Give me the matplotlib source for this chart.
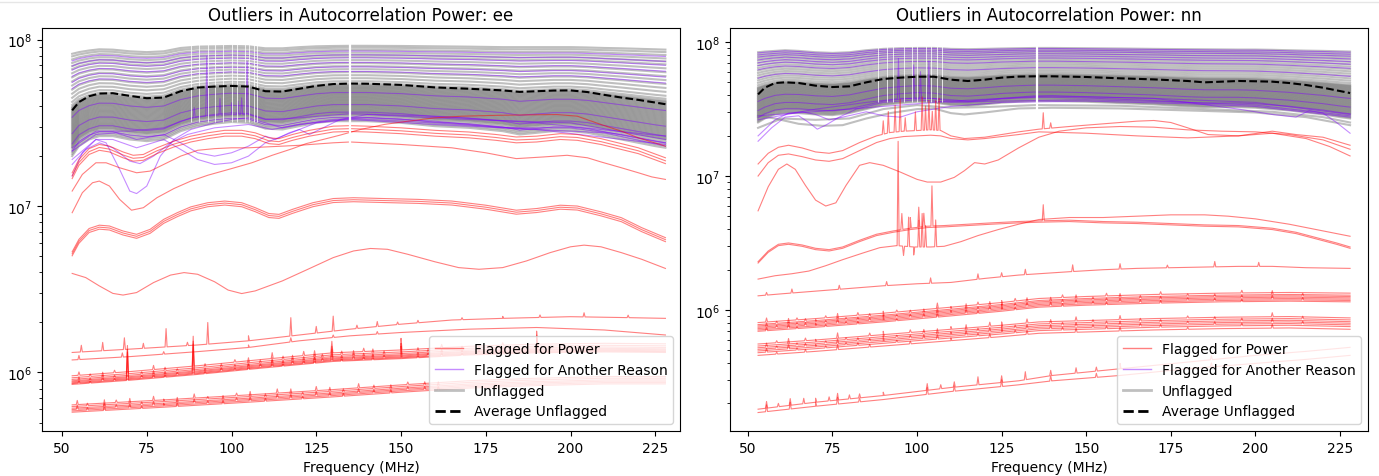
import numpy as np
import matplotlib
matplotlib.use("Agg")
import matplotlib.pyplot as plt
from matplotlib.lines import Line2D

# ---------------- data (log10 of autocorrelation power) ----------------
FREQ = [53, 55, 58, 61, 65, 70, 75, 80, 85, 90, 95, 100, 105, 110, 115, 120, 125,
        130, 135, 140, 150, 160, 170, 180, 185, 190, 195, 200, 205, 210, 215, 220, 225, 228]
XTICKS = [50, 75, 100, 125, 150, 175, 200, 225]
TITLES = ["Outliers in Autocorrelation Power: ee", "Outliers in Autocorrelation Power: nn"]
LEGEND_LABELS = ["Flagged for Power", "Flagged for Another Reason", "Unflagged", "Average Unflagged"]
FLAGGED_CHANNELS_EE = [88.0, 90.4, 93.2, 95.0, 97.6, 100.1, 101.5, 104.0, 105.2, 106.6, 107.4]
FLAGGED_CHANNELS_NN = [88.5, 91.0, 93.0, 96.0, 98.5, 100.0, 102.6, 104.2, 106.0, 107.5]
GAP_EE = 135.0
GAP_NN = 135.4

# ---- ee: unflagged band ----
EE_AVG = [7.575, 7.625, 7.660, 7.676, 7.678, 7.662, 7.648, 7.652, 7.690, 7.712, 7.718, 7.722, 7.718,
          7.690, 7.688, 7.705, 7.722, 7.733, 7.736, 7.735, 7.728, 7.713, 7.705, 7.695, 7.686, 7.690,
          7.694, 7.695, 7.685, 7.668, 7.652, 7.638, 7.622, 7.612]
EE_TOP = [7.915, 7.925, 7.935, 7.942, 7.940, 7.930, 7.925, 7.930, 7.950, 7.958, 7.960, 7.962, 7.960,
          7.948, 7.948, 7.955, 7.960, 7.962, 7.963, 7.963, 7.962, 7.960, 7.958, 7.955, 7.955, 7.955,
          7.955, 7.955, 7.953, 7.950, 7.948, 7.945, 7.942, 7.940]
EE_BOT = [7.300, 7.360, 7.400, 7.420, 7.420, 7.400, 7.390, 7.400, 7.450, 7.480, 7.495, 7.505, 7.500,
          7.465, 7.460, 7.480, 7.500, 7.510, 7.510, 7.510, 7.500, 7.480, 7.470, 7.450, 7.430, 7.440,
          7.450, 7.450, 7.440, 7.420, 7.400, 7.380, 7.360, 7.350]
EE_GRAY_POS = [0.00, 0.02, 0.04, 0.06, 0.08, 0.09, 0.10, 0.11, 0.12, 0.13, 0.14, 0.15, 0.16, 0.17,
               0.18, 0.19, 0.20, 0.21, 0.22, 0.23, 0.24, 0.25, 0.26, 0.27, 0.28, 0.29, 0.30, 0.31,
               0.32, 0.33, 0.34, 0.35, 0.36, 0.37, 0.38, 0.39, 0.40, 0.41, 0.42, 0.43, 0.44, 0.45,
               0.46, 0.47, 0.48, 0.50, 0.53, 0.57, 0.61, 0.65, 0.69, 0.73, 0.77, 0.81, 0.85, 0.88,
               0.91, 0.945, 0.975, 1.00]
EE_PURPLE_POS = [0.93, 0.88, 0.84, 0.78, 0.72, 0.66, 0.38, 0.22, 0.12, 0.05]

# ---- ee: purple (flagged for another reason) explicit curves ----
EE_P1_F = [53, 56, 60, 63, 67, 70, 72, 75, 79, 83, 88, 95, 100, 105, 110, 115, 120, 130, 140, 160, 180, 200, 215, 228]
EE_P1_V = [7.18, 7.32, 7.40, 7.38, 7.22, 7.09, 7.075, 7.12, 7.30, 7.40, 7.46, 7.50, 7.52, 7.53, 7.50, 7.47, 7.49,
           7.52, 7.53, 7.51, 7.47, 7.47, 7.43, 7.38]
EE_P2_F = [53, 57, 61, 65, 70, 73, 77, 82, 87, 95, 105, 112, 120, 135, 160, 190, 210, 228]
EE_P2_V = [7.25, 7.34, 7.38, 7.35, 7.27, 7.255, 7.30, 7.38, 7.43, 7.47, 7.49, 7.46, 7.49, 7.525, 7.50, 7.46, 7.44, 7.36]
EE_P3_F = [53, 60, 65, 72, 80, 85, 90, 95, 100, 105, 110, 115, 120, 125, 135, 160, 190, 228]
EE_P3_V = [7.28, 7.40, 7.40, 7.35, 7.40, 7.34, 7.28, 7.25, 7.26, 7.30, 7.38, 7.42, 7.46, 7.50, 7.52, 7.49, 7.46, 7.37]
EE_P4_F = [53, 60, 66, 72, 80, 85, 90, 95, 100, 105, 110, 113, 117, 120, 123, 127, 132, 140, 170, 200, 228]
EE_P4_V = [7.33, 7.43, 7.44, 7.40, 7.43, 7.38, 7.32, 7.30, 7.32, 7.36, 7.42, 7.40, 7.44, 7.46, 7.43, 7.47, 7.52,
           7.55, 7.52, 7.50, 7.40]
EE_P5_F = [53, 60, 70, 80, 88, 95, 100, 105, 110, 120, 135, 160, 190, 228]
EE_P5_V = [7.35, 7.45, 7.45, 7.47, 7.53, 7.545, 7.55, 7.55, 7.52, 7.53, 7.555, 7.54, 7.50, 7.42]
EE_P5_SPIKES = [(89.0, 0.06), (92.7, 0.36), (96.6, 0.10), (100.0, 0.07), (101.9, 0.08), (103.0, 0.10), (104.6, 0.32)]

# ---- ee: red (flagged for power) curves ----
EE_RA_F = [53, 55, 58, 61, 64, 68, 71, 74, 78, 83, 88, 93, 98, 103, 107, 111, 114, 118, 123, 130, 135, 140,
           150, 160, 170, 178, 184, 190, 197, 202, 209, 215, 220, 224, 228]
EE_RA_V = [7.20, 7.28, 7.345, 7.37, 7.36, 7.325, 7.305, 7.31, 7.35, 7.39, 7.42, 7.44, 7.455, 7.455, 7.44,
           7.41, 7.405, 7.43, 7.455, 7.48, 7.483, 7.48, 7.47, 7.455, 7.445, 7.43, 7.415, 7.42, 7.435, 7.43,
           7.405, 7.375, 7.35, 7.32, 7.29]
EE_RA_OFFSETS = [0.0, -0.018, -0.035]
EE_RB_F = [53, 56, 59, 61, 64, 67, 70.5, 74, 78, 83, 88, 93, 100, 106, 112, 118, 122, 127, 132, 138, 145,
           152, 160, 168, 178, 188, 196, 202, 209, 215, 220, 224, 228]
EE_RB_V = [6.96, 7.08, 7.14, 7.15, 7.12, 7.04, 6.975, 6.99, 7.05, 7.105, 7.15, 7.185, 7.225, 7.26, 7.305,
           7.345, 7.375, 7.40, 7.426, 7.46, 7.49, 7.51, 7.53, 7.54, 7.545, 7.548, 7.55, 7.54, 7.49, 7.45,
           7.41, 7.385, 7.36]
EE_R24_F = [53, 56, 60, 63, 67, 72, 76, 80, 85, 90, 95, 100, 105, 110, 120, 130, 135, 150, 165, 175, 184,
            192, 199, 205, 209, 215, 220, 224, 228]
EE_R24_V = [7.09, 7.19, 7.26, 7.26, 7.23, 7.20, 7.21, 7.25, 7.30, 7.335, 7.345, 7.35, 7.35, 7.355, 7.365,
            7.38, 7.385, 7.37, 7.35, 7.32, 7.285, 7.295, 7.305, 7.29, 7.265, 7.23, 7.20, 7.175, 7.16]
EE_RC_F = [53, 55, 58, 61, 64, 68, 72, 76, 80, 84, 88, 93, 98, 103, 107, 111, 114, 118, 124, 130, 136, 145,
           155, 165, 175, 184, 190, 197, 202, 209, 215, 221, 228]
EE_RC_V = [6.725, 6.80, 6.865, 6.885, 6.88, 6.85, 6.83, 6.86, 6.92, 6.96, 6.995, 7.02, 7.03, 7.02, 6.99,
           6.955, 6.95, 6.98, 7.02, 7.045, 7.05, 7.045, 7.04, 7.03, 7.005, 6.975, 6.985, 7.005, 7.0, 6.965,
           6.93, 6.87, 6.81]
EE_RC_OFFSETS = [0.0, -0.012, -0.024]
EE_RD_F = [53, 57, 61, 65, 68, 72, 77, 82, 86, 90, 95, 99, 103, 107, 115, 122, 130, 136, 141, 146, 152, 160,
           167, 173, 180, 187, 194, 200, 204, 209, 215, 221, 228]
EE_RD_V = [6.595, 6.57, 6.52, 6.475, 6.465, 6.48, 6.54, 6.585, 6.60, 6.59, 6.545, 6.495, 6.474, 6.49, 6.55,
           6.615, 6.69, 6.73, 6.745, 6.74, 6.71, 6.665, 6.63, 6.62, 6.63, 6.67, 6.72, 6.755, 6.765, 6.755,
           6.72, 6.68, 6.625]
EE_RE1_F = [53, 70, 90, 105, 120, 135, 150, 165, 180, 200, 215, 228]
EE_RE1_V = [6.12, 6.14, 6.165, 6.19, 6.225, 6.26, 6.29, 6.315, 6.325, 6.335, 6.33, 6.325]
EE_RE1_SPIKES = [(55.7, 0.04), (62.0, 0.05), (68.4, 0.07), (74.0, 0.03), (80.7, 0.11), (87.0, 0.02),
                 (93.0, 0.13), (105.0, 0.03), (117.5, 0.11), (125.0, 0.04), (130.0, 0.09), (137.0, 0.02),
                 (143.0, 0.03), (149.0, 0.015), (155.0, 0.015), (168.0, 0.012), (180.0, 0.012),
                 (191.0, 0.015), (204.0, 0.025), (217.0, 0.015)]
EE_RE2_F = [53, 70, 90, 105, 120, 135, 150, 170, 190, 210, 228]
EE_RE2_V = [6.075, 6.095, 6.125, 6.15, 6.19, 6.22, 6.24, 6.26, 6.27, 6.255, 6.225]
EE_RE2_SPIKES = [(55.0, 0.025), (67.8, 0.025), (80.0, 0.015), (105.0, 0.015), (117.5, 0.025), (130.0, 0.015),
                 (143.0, 0.015)]
EE_RF_F = [53, 70, 90, 110, 130, 150, 170, 190, 210, 228]
EE_RF_V = [5.95, 5.975, 6.01, 6.05, 6.088, 6.105, 6.127, 6.14, 6.145, 6.142]
EE_RF_OFFSETS = [0.03, 0.018, 0.008, 0.0, -0.006, -0.012, -0.017, -0.022]
EE_RF_SPIKES = [55.0, 58.3, 62.0, 65.5, 69.3, 73.5, 77.0, 80.4, 84.0, 88.7, 92.2, 97.0, 101.0, 105.0, 108.5,
                112.0, 115.2, 118.0, 121.3, 124.5, 126.8, 129.6, 132.5, 136.0, 139.0, 141.7, 145.0, 150.0,
                155.0, 158.0, 162.0, 168.0, 173.0, 180.0, 190.0]
EE_RF_AMPS = [0.02, 0.015, 0.03, 0.015, 0.17, 0.015, 0.025, 0.02, 0.015, 0.18, 0.02, 0.02, 0.015, 0.03, 0.02,
              0.035, 0.02, 0.03, 0.025, 0.035, 0.02, 0.07, 0.02, 0.03, 0.02, 0.025, 0.02, 0.07, 0.02, 0.02,
              0.02, 0.015, 0.02, 0.015, 0.09]
EE_RG_F = [53, 80, 105, 130, 150, 170, 190, 210, 228]
EE_RG_V = [5.785, 5.815, 5.845, 5.877, 5.905, 5.93, 5.945, 5.955, 5.955]
EE_RG_OFFSETS = [0.02, 0.01, 0.0, -0.008, -0.016, -0.024]
EE_RG_SPIKES = [54.5, 57.5, 62.5, 66.0, 70.0, 73.5, 77.0, 80.0, 84.0, 89.0, 93.0, 97.5, 101.5, 105.5, 110.0,
                113.5, 117.5, 121.0, 125.0, 129.0, 133.0, 137.5, 142.0, 147.0, 152.0, 157.0, 161.0]
EE_RG_AMPS = [0.025, 0.015, 0.04, 0.015, 0.03, 0.015, 0.025, 0.015, 0.03, 0.025, 0.015, 0.025, 0.015, 0.03,
              0.02, 0.025, 0.03, 0.015, 0.025, 0.025, 0.02, 0.025, 0.02, 0.025, 0.015, 0.02, 0.025]

# ---- nn: unflagged band ----
NN_AVG = [7.610, 7.660, 7.695, 7.700, 7.695, 7.675, 7.665, 7.670, 7.700, 7.725, 7.735, 7.742, 7.742,
          7.720, 7.710, 7.720, 7.735, 7.743, 7.745, 7.745, 7.740, 7.730, 7.722, 7.710, 7.700, 7.705,
          7.710, 7.708, 7.705, 7.695, 7.680, 7.660, 7.635, 7.620]
NN_TOP = [7.925, 7.930, 7.935, 7.940, 7.935, 7.925, 7.920, 7.925, 7.940, 7.950, 7.955, 7.957, 7.957,
          7.950, 7.948, 7.950, 7.953, 7.955, 7.957, 7.957, 7.955, 7.953, 7.950, 7.948, 7.947, 7.946,
          7.945, 7.945, 7.943, 7.940, 7.937, 7.935, 7.932, 7.930]
NN_BOT = [7.400, 7.430, 7.460, 7.470, 7.470, 7.460, 7.455, 7.470, 7.500, 7.530, 7.545, 7.555, 7.550,
          7.530, 7.525, 7.535, 7.548, 7.555, 7.560, 7.560, 7.555, 7.545, 7.535, 7.520, 7.515, 7.515,
          7.515, 7.510, 7.500, 7.490, 7.475, 7.460, 7.440, 7.430]
NN_GRAY_POS = [0.00, 0.015, 0.03, 0.045, 0.06, 0.07, 0.08, 0.09, 0.10, 0.11, 0.12, 0.13, 0.14, 0.15,
               0.16, 0.17, 0.18, 0.19, 0.20, 0.21, 0.22, 0.23, 0.24, 0.25, 0.26, 0.27, 0.28, 0.29,
               0.30, 0.31, 0.32, 0.33, 0.34, 0.35, 0.36, 0.37, 0.38, 0.39, 0.40, 0.41, 0.42, 0.43,
               0.44, 0.45, 0.46, 0.47, 0.48, 0.49, 0.50, 0.53, 0.565, 0.60, 0.635, 0.67, 0.705,
               0.74, 0.775, 0.81, 0.845, 0.88, 0.91, 0.94, 0.97, 1.00]
NN_PURPLE_POS = [0.99, 0.96, 0.93, 0.89, 0.85, 0.81, 0.75, 0.63, 0.30, 0.17, 0.07]
NN_GL1_F = [53, 58, 65, 72, 78, 85, 92, 100, 105, 110, 114, 120, 130, 140, 160, 180, 200, 215, 228]
NN_GL1_V = [7.45, 7.43, 7.39, 7.375, 7.38, 7.43, 7.47, 7.50, 7.505, 7.47, 7.46, 7.475, 7.505, 7.51,
            7.505, 7.49, 7.475, 7.44, 7.38]
NN_GL2_F = [53, 60, 70, 80, 90, 100, 110, 120, 135, 160, 185, 205, 220, 228]
NN_GL2_V = [7.36, 7.43, 7.42, 7.43, 7.50, 7.53, 7.51, 7.515, 7.53, 7.525, 7.50, 7.48, 7.44, 7.40]
NN_P1_F = [53, 57, 61, 65, 68, 70.5, 73, 77, 82, 90, 100, 110, 125, 150, 180, 200, 228]
NN_P1_V = [7.26, 7.36, 7.44, 7.45, 7.40, 7.35, 7.38, 7.44, 7.50, 7.55, 7.57, 7.55, 7.56, 7.57, 7.55, 7.53, 7.45]
NN_P2_F = [53, 58, 62, 66, 70, 74, 78, 85, 90, 95, 100, 110, 125, 150, 180, 200, 228]
NN_P2_V = [7.30, 7.42, 7.47, 7.48, 7.46, 7.42, 7.44, 7.48, 7.45, 7.44, 7.48, 7.52, 7.55, 7.56, 7.54, 7.52, 7.44]
NN_P3_F = [53, 80, 110, 140, 170, 180, 195, 205, 212, 216, 220, 224, 228]
NN_P3_V = [7.45, 7.50, 7.56, 7.60, 7.58, 7.55, 7.50, 7.46, 7.44, 7.49, 7.47, 7.40, 7.32]
NN_P5_F = [53, 70, 85, 95, 105, 115, 135, 170, 200, 228]
NN_P5_V = [7.42, 7.50, 7.55, 7.58, 7.58, 7.56, 7.60, 7.58, 7.55, 7.46]
NN_P5_SPIKES = [(94.5, 0.30), (99.0, 0.25), (101.0, 0.20), (103.5, 0.28)]

# ---- nn: red curves ----
NN_RX_F = [53, 56, 59, 62, 66, 70, 74, 78, 83, 88, 92, 96, 100, 104, 107, 110, 114, 120, 130, 136, 145,
           155, 165, 170, 175, 180, 186, 195, 205, 212, 220, 228]
NN_RX_V = [7.09, 7.17, 7.215, 7.23, 7.21, 7.18, 7.17, 7.19, 7.25, 7.30, 7.325, 7.335, 7.34, 7.345, 7.34,
           7.30, 7.28, 7.29, 7.33, 7.35, 7.37, 7.39, 7.41, 7.415, 7.40, 7.36, 7.31, 7.30, 7.335, 7.31,
           7.29, 7.23]
NN_RX_SPIKES = [(90.0, 0.10), (91.5, 0.16), (93.5, 0.20), (95.0, 0.24), (96.5, 0.10), (99.5, 0.14),
                (101.5, 0.25), (102.5, 0.18), (103.5, 0.22), (104.5, 0.14), (105.5, 0.22), (106.5, 0.24),
                (137.3, 0.12), (139.5, 0.04)]
NN_RY_F = [53, 56, 59, 62, 66, 70, 74, 78, 83, 88, 92, 96, 100, 104, 107, 110, 115, 120, 130, 136, 150,
           165, 180, 195, 205, 215, 222, 228]
NN_RY_V = [7.00, 7.10, 7.155, 7.165, 7.145, 7.12, 7.11, 7.13, 7.19, 7.25, 7.28, 7.295, 7.30, 7.305, 7.30,
           7.28, 7.27, 7.28, 7.31, 7.33, 7.32, 7.30, 7.285, 7.30, 7.32, 7.28, 7.22, 7.15]
NN_RZ_F = [53, 56, 59, 61.5, 64, 67, 70, 73, 76, 79, 83, 86, 90, 95, 100, 103, 107, 111, 114, 117, 120, 124,
           130, 136, 142, 150, 160, 170, 180, 190, 200, 210, 220, 228]
NN_RZ_V = [6.74, 6.92, 7.05, 7.09, 7.05, 6.93, 6.82, 6.776, 6.80, 6.93, 7.08, 7.10, 7.08, 7.03, 6.975, 6.955,
           6.955, 6.99, 7.04, 7.10, 7.09, 7.12, 7.21, 7.29, 7.335, 7.36, 7.37, 7.365, 7.345, 7.335, 7.33,
           7.31, 7.27, 7.20]
NN_RC1_F = [53, 56, 59, 62, 66, 70, 74, 78, 83, 88, 93, 98, 103, 108, 115, 122, 130, 136, 145, 155, 165,
            175, 185, 195, 205, 212, 218, 224, 228]
NN_RC1_V = [6.36, 6.44, 6.49, 6.50, 6.485, 6.46, 6.45, 6.47, 6.52, 6.565, 6.59, 6.61, 6.625, 6.63, 6.64,
            6.65, 6.66, 6.665, 6.67, 6.66, 6.655, 6.645, 6.635, 6.63, 6.61, 6.58, 6.54, 6.50, 6.47]
NN_RC1_SPIKES = [(95.5, 0.12), (98.0, 0.08), (100.5, 0.15), (102.0, 0.10), (104.4, 0.30), (137.3, 0.12)]
NN_RC2_F = [53, 58, 63, 68, 73, 78, 84, 89, 94, 99, 104, 108, 113, 118, 124, 130, 136, 145, 155, 165, 175,
            185, 192, 200, 210, 218, 224, 228]
NN_RC2_V = [6.23, 6.255, 6.27, 6.29, 6.33, 6.375, 6.425, 6.465, 6.48, 6.47, 6.47, 6.475, 6.51, 6.555, 6.60,
            6.64, 6.675, 6.69, 6.69, 6.70, 6.71, 6.71, 6.70, 6.68, 6.64, 6.60, 6.57, 6.55]
NN_RC2_SPIKES = [(94.4, 0.78), (96.0, -0.07), (97.5, 0.22), (99.0, -0.06), (100.5, 0.20), (101.5, 0.25),
                 (102.5, 0.16), (105.5, 0.20)]
NN_RD_F = [53, 60, 70, 80, 90, 100, 110, 120, 130, 136, 145, 155, 165, 175, 185, 195, 205, 215, 228]
NN_RD_V = [6.105, 6.12, 6.14, 6.16, 6.18, 6.195, 6.205, 6.235, 6.26, 6.27, 6.285, 6.30, 6.31, 6.315, 6.32,
           6.325, 6.325, 6.315, 6.31]
NN_RD_SPIKES = [(55.5, 0.02), (63.0, 0.03), (77.0, 0.03), (91.0, 0.03), (104.0, 0.04), (118.0, 0.04),
                (125.0, 0.03), (132.0, 0.04), (146.0, 0.05), (160.0, 0.04), (174.0, 0.02), (188.0, 0.04),
                (201.0, 0.03)]
NN_RE_F = [53, 70, 90, 110, 125, 136, 150, 170, 190, 210, 228]
NN_RE_V = [5.87, 5.90, 5.94, 5.985, 6.02, 6.05, 6.065, 6.08, 6.09, 6.095, 6.09]
NN_RE_OFFSETS = [0.035, 0.02, 0.01, 0.0, -0.01, -0.02, -0.03]
NN_RF_F = [53, 70, 90, 110, 125, 136, 150, 170, 190, 210, 228]
NN_RF_V = [5.705, 5.735, 5.775, 5.815, 5.845, 5.87, 5.88, 5.895, 5.905, 5.91, 5.90]
NN_RF_OFFSETS = [0.04, 0.025, 0.012, 0.0, -0.012, -0.025, -0.045]
NN_LOW_SPIKES = [55.5, 58.5, 62.0, 64.5, 67.0, 70.0, 73.0, 76.5, 79.0, 82.5, 86.0, 90.0, 94.0, 98.0, 102.0,
                 106.0, 110.0, 114.5, 118.0, 121.5, 125.0, 129.0, 132.5, 139.5, 143.0, 147.0, 152.0, 156.0,
                 160.0, 166.0, 172.0, 180.0, 188.0, 196.0, 205.0, 214.0]
NN_LOW_AMPS = [0.03, 0.015, 0.04, 0.015, 0.02, 0.02, 0.015, 0.04, 0.015, 0.02, 0.02, 0.04, 0.015, 0.02, 0.03,
               0.04, 0.02, 0.04, 0.02, 0.03, 0.04, 0.02, 0.03, 0.03, 0.02, 0.03, 0.02, 0.02, 0.03, 0.02,
               0.02, 0.015, 0.02, 0.02, 0.03, 0.02]
NN_RG1_F = [53, 70, 90, 110, 130, 140, 160, 180, 200, 215, 228]
NN_RG1_V = [5.258, 5.31, 5.36, 5.42, 5.47, 5.51, 5.56, 5.61, 5.66, 5.69, 5.72]
NN_RG2_F = [53, 70, 90, 110, 130, 140, 160, 180, 200, 215, 228]
NN_RG2_V = [5.233, 5.28, 5.33, 5.39, 5.44, 5.47, 5.51, 5.56, 5.60, 5.63, 5.66]
NN_RG_SPIKES = [(55.5, 0.05), (59.0, 0.025), (62.5, 0.05), (66.5, 0.04), (70.0, 0.03), (74.0, 0.03),
                (76.5, 0.05), (80.0, 0.03), (83.0, 0.03), (90.0, 0.025), (103.0, 0.05), (107.0, 0.03),
                (111.0, 0.04), (118.0, 0.06), (125.0, 0.05), (132.0, 0.06), (139.5, 0.04), (147.0, 0.04),
                (153.0, 0.03), (160.0, 0.04), (187.0, 0.03)]

XLIM_EE = (44.1, 232.3)
XLIM_NN = (44.7, 233.3)
YLIM_EE = (10 ** 5.648, 10 ** 8.070)
YLIM_NN = (10 ** 5.095, 10 ** 8.106)

# ---------------- styling ----------------
RED = (1.0, 0.0, 0.0)
PURPLE = (0.5, 0.0, 1.0)
GRAY = (0.5, 0.5, 0.5)


def spiky(f, v, spikes, width=0.3):
    f = np.asarray(f, float)
    v = np.asarray(v, float)
    xs, ys = list(f), list(v)
    for fs, dh in spikes:
        b = np.interp([fs - width, fs, fs + width], f, v)
        xs += [fs - width, fs, fs + width]
        ys += [b[0], b[1] + dh, b[2]]
    order = np.argsort(xs, kind="stable")
    return np.array(xs)[order], 10 ** np.array(ys)[order]


def red(ax, f, v, spikes=(), **kw):
    x, y = spiky(f, v, spikes)
    ax.plot(x, y, color=RED, alpha=0.5, lw=0.8, zorder=3, **kw)


def purple(ax, f, v, spikes=(), **kw):
    x, y = spiky(f, v, spikes)
    ax.plot(x, y, color=PURPLE, alpha=0.45, lw=0.8, zorder=2.5, **kw)


def bundle_spikes(spk, amps, k):
    return [(s, a) for j, (s, a) in enumerate(zip(spk, amps)) if j % 3 == k % 3]


def draw_band(ax, top, bot, pos, ppos, avg):
    top, bot = np.array(top), np.array(bot)
    for p in pos:
        ax.plot(FREQ, 10 ** (bot + p * (top - bot)), color=GRAY, alpha=0.5, lw=1.5, zorder=2)
    for p in ppos:
        ax.plot(FREQ, 10 ** (bot + p * (top - bot)), color=PURPLE, alpha=0.45, lw=0.8, zorder=2.5)
    ax.plot(FREQ, 10 ** np.array(avg), color="black", ls="--", lw=1.5, zorder=6)


fig = plt.figure(figsize=(13.79, 4.77), dpi=100)
fig.add_artist(Line2D([0, 1], [0.993, 0.993], color="#e6e6e6", lw=1))
ax1 = fig.add_axes([42 / 1379, 45 / 477, 638 / 1379, 403 / 477])
ax2 = fig.add_axes([730 / 1379, 45 / 477, 638 / 1379, 403 / 477])

# ---- ee panel ----
ax = ax1
draw_band(ax, EE_TOP, EE_BOT, EE_GRAY_POS, EE_PURPLE_POS, EE_AVG)
purple(ax, EE_P1_F, EE_P1_V)
purple(ax, EE_P2_F, EE_P2_V)
purple(ax, EE_P3_F, EE_P3_V)
purple(ax, EE_P4_F, EE_P4_V)
purple(ax, EE_P5_F, EE_P5_V, EE_P5_SPIKES)
for o in EE_RA_OFFSETS:
    red(ax, EE_RA_F, np.array(EE_RA_V) + o)
red(ax, EE_RB_F, EE_RB_V)
red(ax, EE_R24_F, EE_R24_V)
for o in EE_RC_OFFSETS:
    red(ax, EE_RC_F, np.array(EE_RC_V) + o)
red(ax, EE_RD_F, EE_RD_V)
red(ax, EE_RE1_F, EE_RE1_V, EE_RE1_SPIKES)
red(ax, EE_RE2_F, EE_RE2_V, EE_RE2_SPIKES)
for k, o in enumerate(EE_RF_OFFSETS):
    red(ax, EE_RF_F, np.array(EE_RF_V) + o, bundle_spikes(EE_RF_SPIKES, EE_RF_AMPS, k))
for k, o in enumerate(EE_RG_OFFSETS):
    red(ax, EE_RG_F, np.array(EE_RG_V) + o, bundle_spikes(EE_RG_SPIKES, EE_RG_AMPS, k))
ax.vlines(FLAGGED_CHANNELS_EE, 3.2e7, 9.5e7, color="white", lw=0.7, alpha=0.8, zorder=5)
ax.vlines([GAP_EE], 2.3e7, 9.5e7, color="white", lw=1.6, zorder=7)
ax.set_xlim(*XLIM_EE)
ax.set_ylim(*YLIM_EE)

# ---- nn panel ----
ax = ax2
draw_band(ax, NN_TOP, NN_BOT, NN_GRAY_POS, NN_PURPLE_POS, NN_AVG)
ax.plot(NN_GL1_F, 10 ** np.array(NN_GL1_V), color=GRAY, alpha=0.5, lw=1.5, zorder=2)
ax.plot(NN_GL2_F, 10 ** np.array(NN_GL2_V), color=GRAY, alpha=0.5, lw=1.5, zorder=2)
purple(ax, NN_P1_F, NN_P1_V)
purple(ax, NN_P2_F, NN_P2_V)
purple(ax, NN_P3_F, NN_P3_V)
purple(ax, NN_P5_F, NN_P5_V, NN_P5_SPIKES)
red(ax, NN_RX_F, NN_RX_V, NN_RX_SPIKES)
red(ax, NN_RY_F, NN_RY_V)
red(ax, NN_RZ_F, NN_RZ_V)
red(ax, NN_RC1_F, NN_RC1_V, NN_RC1_SPIKES)
red(ax, NN_RC1_F, np.array(NN_RC1_V) - 0.01)
red(ax, NN_RC2_F, NN_RC2_V, NN_RC2_SPIKES)
red(ax, NN_RD_F, NN_RD_V, NN_RD_SPIKES)
for k, o in enumerate(NN_RE_OFFSETS):
    red(ax, NN_RE_F, np.array(NN_RE_V) + o, bundle_spikes(NN_LOW_SPIKES, NN_LOW_AMPS, k))
for k, o in enumerate(NN_RF_OFFSETS):
    red(ax, NN_RF_F, np.array(NN_RF_V) + o, bundle_spikes(NN_LOW_SPIKES, NN_LOW_AMPS, k + 1))
red(ax, NN_RG1_F, NN_RG1_V, NN_RG_SPIKES)
red(ax, NN_RG2_F, NN_RG2_V, NN_RG_SPIKES[::2])
ax.vlines(FLAGGED_CHANNELS_NN, 3.6e7, 9.5e7, color="white", lw=0.7, alpha=0.8, zorder=5)
ax.vlines([GAP_NN], 2.6e7, 9.5e7, color="white", lw=1.6, zorder=7)
ax.set_xlim(*XLIM_NN)
ax.set_ylim(*YLIM_NN)

handles = [Line2D([], [], color=RED, alpha=0.5, lw=1.0),
           Line2D([], [], color=PURPLE, alpha=0.45, lw=1.0),
           Line2D([], [], color=GRAY, alpha=0.5, lw=2.0),
           Line2D([], [], color="black", ls="--", lw=2.0)]

for ax, title in zip((ax1, ax2), TITLES):
    ax.set_yscale("log")
    ax.set_xticks(XTICKS)
    ax.set_title(title)
    ax.set_xlabel("Frequency (MHz)")
    leg = ax.legend(handles, LEGEND_LABELS, loc="lower right")
    leg.set_zorder(10)

fig.savefig("out.png", dpi=100)
